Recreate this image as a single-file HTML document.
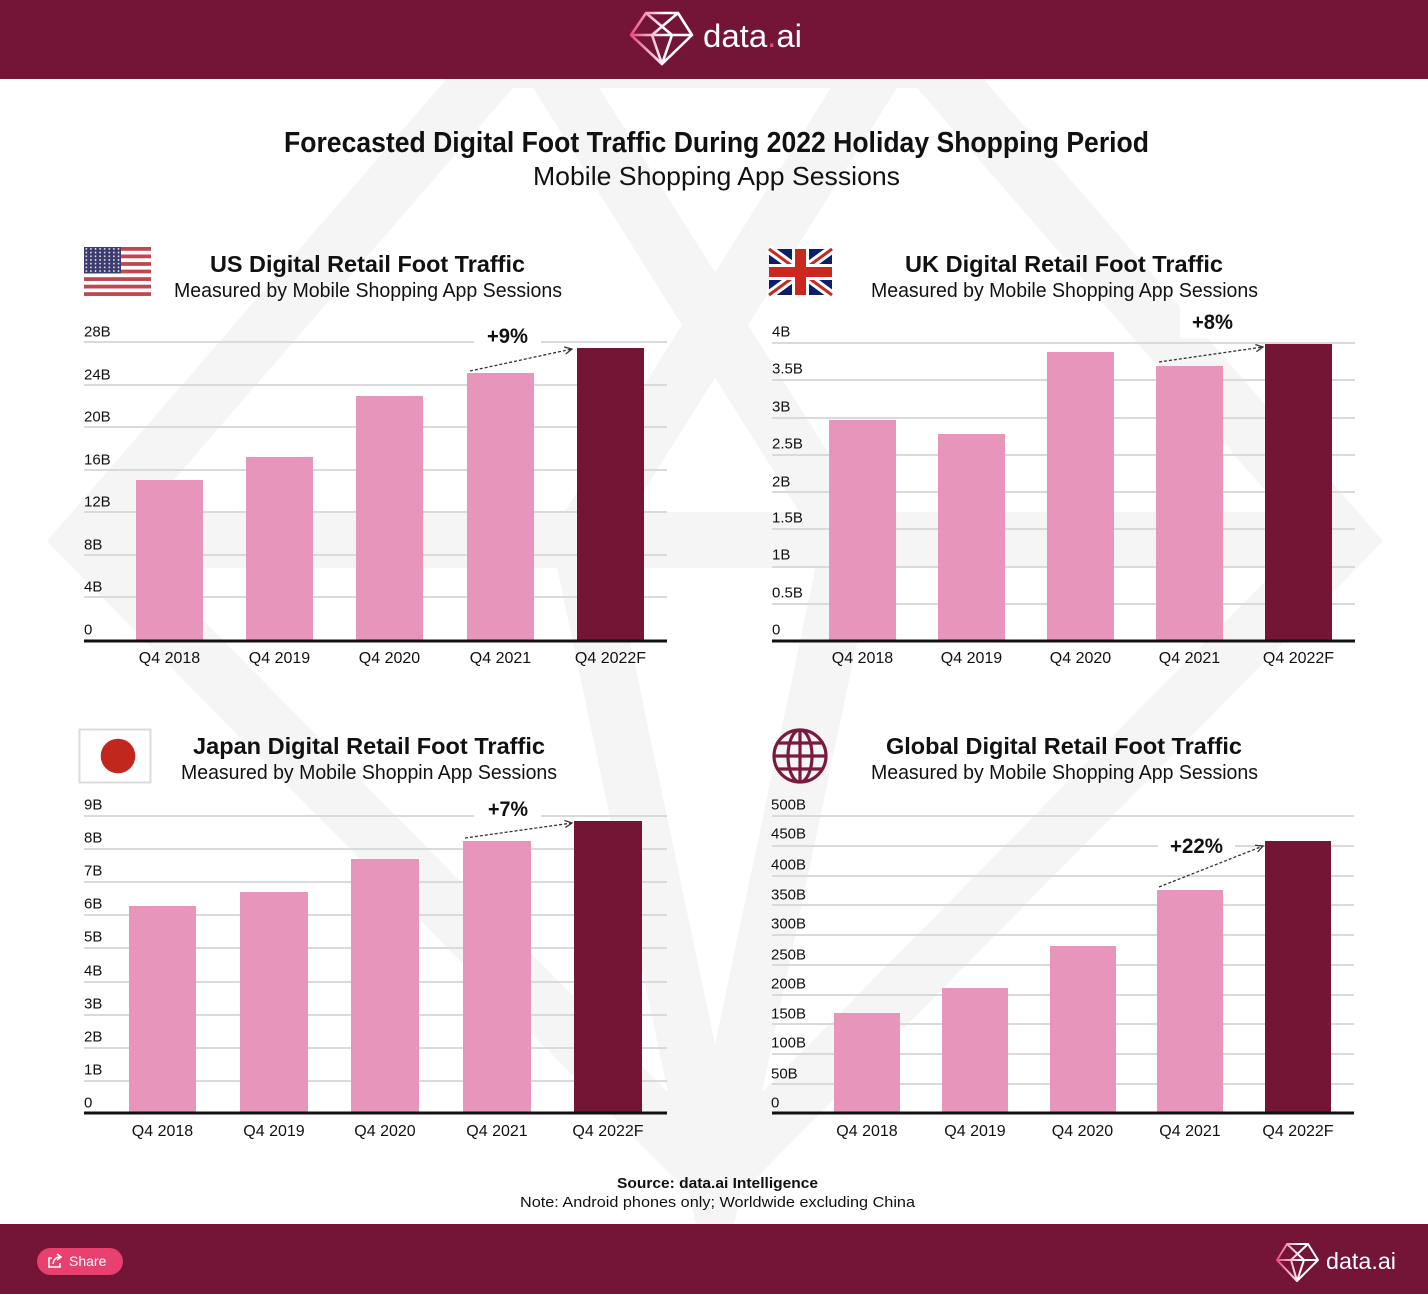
<!DOCTYPE html>
<html><head><meta charset="utf-8"><style>
html,body{margin:0;padding:0;background:#fff;}
svg{display:block;}
text{font-family:"Liberation Sans",sans-serif;}
</style></head><body>
<svg width="1428" height="1294" viewBox="0 0 1428 1294" xmlns="http://www.w3.org/2000/svg">
<defs>
<marker id="ah" viewBox="0 0 10 10" refX="9" refY="5" markerWidth="9" markerHeight="9" orient="auto" markerUnits="userSpaceOnUse">
<path d="M1,1 L9,5 L1,9" fill="none" stroke="#333" stroke-width="1.4"/>
</marker>
<linearGradient id="lg" x1="0" y1="0" x2="1" y2="0">
<stop offset="0" stop-color="#ec4a7f"/><stop offset="0.55" stop-color="#ffffff"/><stop offset="1" stop-color="#ffffff"/>
</linearGradient>
<pattern id="stars" x="84" y="247" width="4.6" height="3.7" patternUnits="userSpaceOnUse">
<rect width="4.6" height="3.7" fill="#3c3b6e"/><circle cx="2.3" cy="1.85" r="0.9" fill="#e8e8f0"/>
</pattern>
</defs>
<rect width="1428" height="1294" fill="#fff"/>
<!-- watermark -->
<g fill="none" stroke="#f5f5f5" stroke-width="56" stroke-linejoin="miter" stroke-miterlimit="10">
<path d="M500,60 L85,540 L715,1180 L1345,540 L930,60 Z"/>
<path d="M85,540 L1345,540"/>
<path d="M536,40 L850,540 L715,1180 L580,540 L894,40"/>
</g>
<!-- header -->
<rect x="0" y="0" width="1428" height="79" fill="#741538"/>
<g fill="none" stroke="url(#lg)" stroke-width="2.6" stroke-linejoin="round">
<path d="M646,13 L678,13 L692,35 L662,64 L631,35 Z"/>
<path d="M631,35 L692,35 M646,13 L672,35 L662,64 L652,35 L678,13"/>
</g>
<text x="703" y="47" font-size="32" fill="#fff" textLength="99" lengthAdjust="spacingAndGlyphs">data<tspan fill="#ec4a7f">.</tspan>ai</text>
<!-- titles -->
<text x="284" y="152" font-size="29" font-weight="bold" fill="#111" textLength="865" lengthAdjust="spacingAndGlyphs">Forecasted Digital Foot Traffic During 2022 Holiday Shopping Period</text>
<text x="533" y="185" font-size="26" fill="#111" textLength="367" lengthAdjust="spacingAndGlyphs">Mobile Shopping App Sessions</text>

<!-- ================= US ================= -->
<g>
<rect x="84" y="247" width="67" height="49" fill="#fff"/>
<g fill="#c0464f">
<rect x="84" y="247" width="67" height="3.77"/><rect x="84" y="254.5" width="67" height="3.77"/><rect x="84" y="262.1" width="67" height="3.77"/><rect x="84" y="269.6" width="67" height="3.77"/><rect x="84" y="277.2" width="67" height="3.77"/><rect x="84" y="284.7" width="67" height="3.77"/><rect x="84" y="292.2" width="67" height="3.77"/>
</g>
<rect x="84" y="247" width="37" height="26.4" fill="url(#stars)"/>
</g>
<text x="210" y="272" font-size="23" font-weight="bold" fill="#111" textLength="315" lengthAdjust="spacingAndGlyphs">US Digital Retail Foot Traffic</text>
<text x="174" y="297" font-size="20" fill="#111" textLength="388" lengthAdjust="spacingAndGlyphs">Measured by Mobile Shopping App Sessions</text>
<g stroke="#dadada" stroke-width="2">
<line x1="84" y1="342" x2="667" y2="342"/><line x1="84" y1="385" x2="667" y2="385"/><line x1="84" y1="427" x2="667" y2="427"/><line x1="84" y1="470" x2="667" y2="470"/><line x1="84" y1="512" x2="667" y2="512"/><line x1="84" y1="555" x2="667" y2="555"/><line x1="84" y1="597" x2="667" y2="597"/>
</g>
<g font-size="15" fill="#111">
<text x="84" y="336.5">28B</text><text x="84" y="379.5">24B</text><text x="84" y="421.5">20B</text><text x="84" y="464.5">16B</text><text x="84" y="506.5">12B</text><text x="84" y="549.5">8B</text><text x="84" y="591.5">4B</text><text x="84" y="634.5">0</text>
</g>
<g fill="#e895bb">
<rect x="136" y="480" width="67" height="160"/><rect x="246" y="457" width="67" height="183"/><rect x="356" y="396" width="67" height="244"/><rect x="467" y="373" width="67" height="267"/>
</g>
<rect x="577" y="348" width="67" height="292" fill="#741535"/>
<rect x="84" y="639.5" width="583" height="3" fill="#111"/>
<g font-size="16" fill="#111" text-anchor="middle">
<text x="169.5" y="663">Q4 2018</text><text x="279.5" y="663">Q4 2019</text><text x="389.5" y="663">Q4 2020</text><text x="500.5" y="663">Q4 2021</text><text x="610.5" y="663">Q4 2022F</text>
</g>
<rect x="474" y="322" width="67" height="28" fill="#fff"/>
<text x="487" y="343" font-size="21" font-weight="bold" fill="#111" textLength="41" lengthAdjust="spacingAndGlyphs">+9%</text>
<line x1="470" y1="371" x2="572" y2="349" stroke="#333" stroke-width="1.3" stroke-dasharray="3,2" marker-end="url(#ah)"/>

<!-- ================= UK ================= -->
<g>
<rect x="769" y="249" width="63" height="46" fill="#0b1e6b"/>
<line x1="769" y1="249" x2="832" y2="295" stroke="#fff" stroke-width="9"/>
<line x1="832" y1="249" x2="769" y2="295" stroke="#fff" stroke-width="9"/>
<line x1="769" y1="249" x2="832" y2="295" stroke="#c8281e" stroke-width="3"/>
<line x1="832" y1="249" x2="769" y2="295" stroke="#c8281e" stroke-width="3"/>
<rect x="769" y="264" width="63" height="16" fill="#fff"/>
<rect x="792" y="249" width="17" height="46" fill="#fff"/>
<rect x="769" y="267" width="63" height="10" fill="#c8281e"/>
<rect x="795" y="249" width="11" height="46" fill="#c8281e"/>
</g>
<text x="905" y="272" font-size="23" font-weight="bold" fill="#111" textLength="318" lengthAdjust="spacingAndGlyphs">UK Digital Retail Foot Traffic</text>
<text x="871" y="297" font-size="20" fill="#111" textLength="387" lengthAdjust="spacingAndGlyphs">Measured by Mobile Shopping App Sessions</text>
<g stroke="#dadada" stroke-width="2">
<line x1="772" y1="343" x2="1355" y2="343"/><line x1="772" y1="380" x2="1355" y2="380"/><line x1="772" y1="418" x2="1355" y2="418"/><line x1="772" y1="455" x2="1355" y2="455"/><line x1="772" y1="492" x2="1355" y2="492"/><line x1="772" y1="529" x2="1355" y2="529"/><line x1="772" y1="567" x2="1355" y2="567"/><line x1="772" y1="604" x2="1355" y2="604"/>
</g>
<g font-size="15" fill="#111">
<text x="772" y="336.5">4B</text><text x="772" y="373.5">3.5B</text><text x="772" y="411.5">3B</text><text x="772" y="448.5">2.5B</text><text x="772" y="486.5">2B</text><text x="772" y="522.5">1.5B</text><text x="772" y="559.5">1B</text><text x="772" y="597.5">0.5B</text><text x="772" y="634.5">0</text>
</g>
<g fill="#e895bb">
<rect x="829" y="420" width="67" height="220"/><rect x="938" y="434" width="67" height="206"/><rect x="1047" y="352" width="67" height="288"/><rect x="1156" y="366" width="67" height="274"/>
</g>
<rect x="1265" y="344" width="67" height="296" fill="#741535"/>
<rect x="772" y="639.5" width="583" height="3" fill="#111"/>
<g font-size="16" fill="#111" text-anchor="middle">
<text x="862.5" y="663">Q4 2018</text><text x="971.5" y="663">Q4 2019</text><text x="1080.5" y="663">Q4 2020</text><text x="1189.5" y="663">Q4 2021</text><text x="1298.5" y="663">Q4 2022F</text>
</g>
<rect x="1180" y="306" width="65" height="32" fill="#fff"/>
<text x="1192" y="329" font-size="21" font-weight="bold" fill="#111" textLength="41" lengthAdjust="spacingAndGlyphs">+8%</text>
<line x1="1159" y1="362" x2="1263" y2="347" stroke="#333" stroke-width="1.3" stroke-dasharray="3,2" marker-end="url(#ah)"/>

<!-- ================= Japan ================= -->
<rect x="79.5" y="729.5" width="71" height="53" fill="#fff" stroke="#dcdcdc" stroke-width="2"/>
<circle cx="118" cy="756" r="17.3" fill="#c1271d"/>
<text x="193" y="754" font-size="23" font-weight="bold" fill="#111" textLength="352" lengthAdjust="spacingAndGlyphs">Japan Digital Retail Foot Traffic</text>
<text x="181" y="779" font-size="20" fill="#111" textLength="376" lengthAdjust="spacingAndGlyphs">Measured by Mobile Shoppin App Sessions</text>
<g stroke="#dadada" stroke-width="2">
<line x1="84" y1="816" x2="667" y2="816"/><line x1="84" y1="849" x2="667" y2="849"/><line x1="84" y1="882" x2="667" y2="882"/><line x1="84" y1="915" x2="667" y2="915"/><line x1="84" y1="948" x2="667" y2="948"/><line x1="84" y1="982" x2="667" y2="982"/><line x1="84" y1="1015" x2="667" y2="1015"/><line x1="84" y1="1048" x2="667" y2="1048"/><line x1="84" y1="1081" x2="667" y2="1081"/>
</g>
<g font-size="15" fill="#111">
<text x="84" y="809.5">9B</text><text x="84" y="842.5">8B</text><text x="84" y="875.5">7B</text><text x="84" y="908.5">6B</text><text x="84" y="941.5">5B</text><text x="84" y="975.5">4B</text><text x="84" y="1008.5">3B</text><text x="84" y="1041.5">2B</text><text x="84" y="1074.5">1B</text><text x="84" y="1107.5">0</text>
</g>
<g fill="#e895bb">
<rect x="129" y="906" width="67" height="206"/><rect x="240" y="892" width="68" height="220"/><rect x="351" y="859" width="68" height="253"/><rect x="463" y="841" width="68" height="271"/>
</g>
<rect x="574" y="821" width="68" height="291" fill="#741535"/>
<rect x="84" y="1111.5" width="583" height="3" fill="#111"/>
<g font-size="16" fill="#111" text-anchor="middle">
<text x="162.5" y="1136">Q4 2018</text><text x="274" y="1136">Q4 2019</text><text x="385" y="1136">Q4 2020</text><text x="497" y="1136">Q4 2021</text><text x="608" y="1136">Q4 2022F</text>
</g>
<rect x="474" y="795" width="67" height="28" fill="#fff"/>
<text x="488" y="816" font-size="21" font-weight="bold" fill="#111" textLength="40" lengthAdjust="spacingAndGlyphs">+7%</text>
<line x1="465" y1="838" x2="572" y2="823" stroke="#333" stroke-width="1.3" stroke-dasharray="3,2" marker-end="url(#ah)"/>

<!-- ================= Global ================= -->
<g fill="none" stroke="#7a1a3e" stroke-width="3.2">
<circle cx="800" cy="756" r="26"/>
<ellipse cx="800" cy="756" rx="12" ry="26"/>
<line x1="800" y1="730" x2="800" y2="782"/>
<line x1="774" y1="756" x2="826" y2="756"/>
<line x1="777.5" y1="743" x2="822.5" y2="743"/>
<line x1="777.5" y1="769" x2="822.5" y2="769"/>
</g>
<text x="886" y="754" font-size="23" font-weight="bold" fill="#111" textLength="356" lengthAdjust="spacingAndGlyphs">Global Digital Retail Foot Traffic</text>
<text x="871" y="779" font-size="20" fill="#111" textLength="387" lengthAdjust="spacingAndGlyphs">Measured by Mobile Shopping App Sessions</text>
<g stroke="#dadada" stroke-width="2">
<line x1="772" y1="816" x2="1354" y2="816"/><line x1="772" y1="846" x2="1354" y2="846"/><line x1="772" y1="876" x2="1354" y2="876"/><line x1="772" y1="905" x2="1354" y2="905"/><line x1="772" y1="935" x2="1354" y2="935"/><line x1="772" y1="965" x2="1354" y2="965"/><line x1="772" y1="995" x2="1354" y2="995"/><line x1="772" y1="1024" x2="1354" y2="1024"/><line x1="772" y1="1054" x2="1354" y2="1054"/><line x1="772" y1="1084" x2="1354" y2="1084"/>
</g>
<g font-size="15" fill="#111">
<text x="771" y="809.5">500B</text><text x="771" y="838.5">450B</text><text x="771" y="869.5">400B</text><text x="771" y="899.5">350B</text><text x="771" y="928.5">300B</text><text x="771" y="959.5">250B</text><text x="771" y="988.5">200B</text><text x="771" y="1018.5">150B</text><text x="771" y="1047.5">100B</text><text x="771" y="1078.5">50B</text><text x="771" y="1107.5">0</text>
</g>
<g fill="#e895bb">
<rect x="834" y="1013" width="66" height="99"/><rect x="942" y="988" width="66" height="124"/><rect x="1050" y="946" width="66" height="166"/><rect x="1157" y="890" width="66" height="222"/>
</g>
<rect x="1265" y="841" width="66" height="271" fill="#741535"/>
<rect x="772" y="1111.5" width="582" height="3" fill="#111"/>
<g font-size="16" fill="#111" text-anchor="middle">
<text x="867" y="1136">Q4 2018</text><text x="975" y="1136">Q4 2019</text><text x="1082.5" y="1136">Q4 2020</text><text x="1190" y="1136">Q4 2021</text><text x="1298" y="1136">Q4 2022F</text>
</g>
<rect x="1158" y="832" width="77" height="28" fill="#fff"/>
<text x="1170" y="853" font-size="21" font-weight="bold" fill="#111" textLength="53" lengthAdjust="spacingAndGlyphs">+22%</text>
<line x1="1159" y1="887" x2="1263" y2="846" stroke="#333" stroke-width="1.3" stroke-dasharray="3,2" marker-end="url(#ah)"/>

<!-- source -->
<text x="617" y="1188" font-size="15" font-weight="bold" fill="#111" textLength="201" lengthAdjust="spacingAndGlyphs">Source: data.ai Intelligence</text>
<text x="520" y="1207" font-size="15" fill="#111" textLength="395" lengthAdjust="spacingAndGlyphs">Note: Android phones only; Worldwide excluding China</text>

<!-- footer -->
<rect x="0" y="1224" width="1428" height="70" fill="#741538"/>
<rect x="37" y="1248" width="86" height="27" rx="13.5" fill="#e8416f"/>
<g fill="none" stroke="#fff" stroke-width="1.6">
<path d="M52,1258 L49,1258 L49,1267 L60,1267 L60,1263"/>
<path d="M53,1264 Q54,1257 60,1257 M57,1254 L61,1257 L57,1260"/>
</g>
<text x="69" y="1266" font-size="14" fill="#fff">Share</text>
<g fill="none" stroke="url(#lg)" stroke-width="2" stroke-linejoin="round">
<path d="M1287,1244 L1308,1244 L1318,1260 L1297,1281 L1277,1260 Z"/>
<path d="M1277,1260 L1318,1260 M1287,1244 L1304,1260 L1297,1281 L1291,1260 L1308,1244"/>
</g>
<text x="1326" y="1269" font-size="23" fill="#fff" textLength="70" lengthAdjust="spacingAndGlyphs">data<tspan fill="#fff">.</tspan>ai</text>
</svg>
</body></html>
